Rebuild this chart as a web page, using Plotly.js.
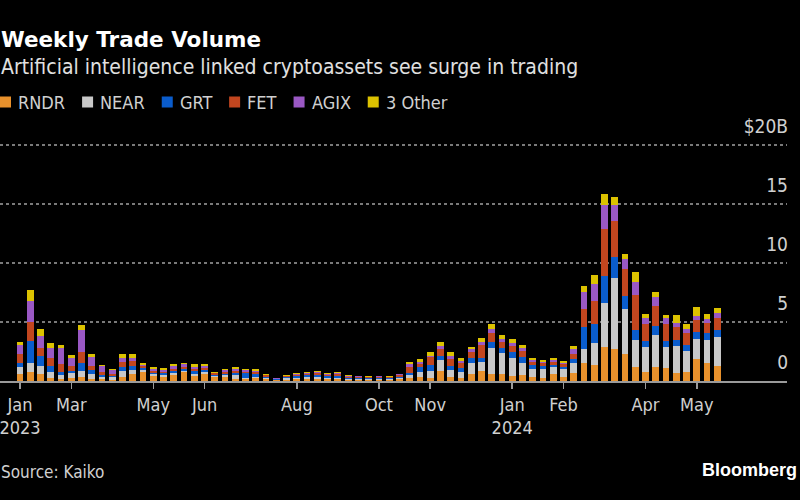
<!DOCTYPE html>
<html>
<head>
<meta charset="utf-8">
<script src="https://cdn.plot.ly/plotly-3.0.1.min.js"></script>
<style>
  html, body { margin: 0; padding: 0; background: #000; }
  #chart { width: 800px; height: 500px; }
</style>
</head>
<body>
<div id="chart"></div>
<script>
// Weekly buckets (69 weeks), tick labels placed at selected weeks
const weeks = Array.from({length: 69}, (_, i) => 'W' + (i + 1));
const tickWeekIdx = [0, 5, 13, 18, 27, 35, 40, 48, 53, 61, 66];
const tickLabels = ['Jan<br>2023', 'Mar', 'May', 'Jun', 'Aug', 'Oct', 'Nov', 'Jan<br>2024', 'Feb', 'Apr', 'May'];

const seriesNames = ['RNDR', 'NEAR', 'GRT', 'FET', 'AGIX', '3 Other'];
const seriesColors = ['#e8912c', '#c8c8c8', '#0a5ccc', '#c2461f', '#9a58c4', '#dcc200'];

// $ billions
const rndr = [0.59,0.76,0.59,0.25,0.20,0.25,0.34,0.20,0.17,0.11,0.37,0.59,0.76,0.42,0.37,0.51,0.73,0.45,0.56,0.31,
  0.34,0.14,0.14,0.23,0.20,0.05,0.12,0.20,0.17,0.17,0.14,0.14,0.10,0.09,0.08,0.09,0.08,0.14,0.28,0.31,
  0.25,0.85,0.37,0.28,0.56,0.85,0.56,0.56,0.42,0.51,0.37,0.28,0.59,0.31,0.71,1.55,1.36,2.85,2.71,2.29,
  1.21,0.79,1.16,1.07,0.65,0.73,1.86,1.50,1.27];
const near = [0.59,0.76,0.71,0.48,0.34,0.40,0.54,0.40,0.20,0.23,0.51,0.37,0.20,0.14,0.14,0.20,0.14,0.14,0.17,0.11,
  0.17,0.34,0.14,0.08,0.08,0.05,0.10,0.08,0.17,0.17,0.14,0.11,0.10,0.09,0.08,0.09,0.08,0.10,0.23,0.42,
  0.62,0.93,0.56,0.45,0.93,0.79,2.26,1.78,1.50,1.05,0.62,0.76,0.56,0.68,0.79,1.13,1.89,3.73,6.05,3.79,
  2.26,2.06,2.74,1.78,2.34,1.81,1.69,1.98,2.43];
const grt = [0.34,1.84,0.85,0.51,0.23,0.23,0.65,0.37,0.17,0.11,0.28,0.28,0.14,0.14,0.14,0.14,0.11,0.28,0.20,0.11,
  0.11,0.23,0.37,0.25,0.08,0.05,0.10,0.14,0.14,0.14,0.11,0.14,0.08,0.07,0.06,0.07,0.07,0.10,0.20,0.48,
  0.48,0.37,0.37,0.34,0.42,0.34,0.45,0.48,0.56,0.51,0.37,0.23,0.17,0.23,0.34,1.92,1.55,2.34,1.78,1.16,
  0.85,0.54,0.79,0.54,0.48,0.51,0.62,0.56,0.62];
const fet = [0.76,1.61,0.65,0.71,0.71,0.37,0.90,0.28,0.23,0.14,0.42,0.42,0.20,0.17,0.14,0.20,0.17,0.14,0.17,0.11,
  0.14,0.14,0.14,0.17,0.11,0.04,0.08,0.11,0.11,0.17,0.14,0.17,0.10,0.09,0.08,0.09,0.08,0.14,0.45,0.20,
  0.65,0.56,0.56,0.42,0.56,1.07,0.82,0.51,0.48,0.51,0.28,0.23,0.25,0.20,0.45,1.50,1.98,3.93,3.05,2.26,
  2.97,1.41,1.67,1.44,1.07,0.99,0.99,0.85,1.05];
const agix = [0.73,1.84,0.99,0.85,1.33,0.71,1.89,0.82,0.48,0.31,0.40,0.28,0.08,0.17,0.14,0.25,0.25,0.20,0.17,0.08,
  0.14,0.14,0.11,0.11,0.08,0.03,0.05,0.08,0.08,0.14,0.08,0.11,0.07,0.06,0.05,0.06,0.06,0.08,0.25,0.23,
  0.15,0.28,0.28,0.23,0.20,0.28,0.28,0.20,0.23,0.20,0.14,0.14,0.17,0.14,0.40,1.41,1.44,2.06,1.33,0.82,
  1.07,0.56,0.73,0.51,0.40,0.37,0.34,0.34,0.37];
const other = [0.28,0.88,0.62,0.40,0.25,0.25,0.40,0.23,0.14,0.14,0.28,0.31,0.17,0.11,0.14,0.14,0.14,0.23,0.14,0.08,
  0.14,0.17,0.14,0.17,0.08,0.03,0.05,0.06,0.08,0.08,0.06,0.08,0.06,0.05,0.05,0.05,0.05,0.06,0.17,0.20,
  0.30,0.28,0.28,0.20,0.23,0.28,0.45,0.40,0.34,0.28,0.20,0.14,0.17,0.17,0.28,0.54,0.76,0.93,0.71,0.45,
  0.90,0.34,0.48,0.28,0.68,0.42,0.79,0.45,0.42];

const yTickVals = [0, 5, 10, 15, 20];
const yTickText = ['0', '5', '10', '15', '$20B'];

const allSeries = [rndr, near, grt, fet, agix, other];
const COND = '"DejaVu Sans Condensed", "DejaVu Sans", sans-serif';

// plot geometry (pixels) used to convert the legend layout to paper units
const W = 800, H = 500;
const M = { l: 0, r: 13, t: 102, b: 119 };
const plotW = W - M.l - M.r, plotH = H - M.t - M.b;
const pxX = px => (px - M.l) / plotW;
const pxY = py => (H - M.b - py) / plotH;

const traces = allSeries.map((vals, k) => ({
  type: 'bar',
  name: seriesNames[k],
  x: weeks,
  y: vals,
  marker: { color: seriesColors[k], line: { width: 0 } },
  hoverinfo: 'skip',
  showlegend: false
}));

// compact legend (swatch + label), widths measured from the font
const legendFontSize = 18;
const cv = document.createElement('canvas').getContext('2d');
cv.font = legendFontSize + 'px "DejaVu Sans Condensed", "DejaVu Sans", sans-serif';
const legendShapes = [];
const legendAnns = [];
let lx = 0;
const legendMidY = 102, sw = 11, textGap = 6, itemGap = 18;
seriesNames.forEach((name, k) => {
  legendShapes.push({
    type: 'rect', xref: 'paper', yref: 'paper', layer: 'above',
    x0: pxX(lx), x1: pxX(lx + sw), y0: pxY(legendMidY + sw / 2), y1: pxY(legendMidY - sw / 2),
    fillcolor: seriesColors[k], line: { width: 0 }
  });
  const tx = lx + sw + textGap;
  legendAnns.push({
    text: name, xref: 'paper', yref: 'paper', x: pxX(tx), y: pxY(legendMidY),
    xanchor: 'left', yanchor: 'middle', showarrow: false, borderpad: 0,
    font: { family: COND, size: legendFontSize, color: '#d0d0d0' }
  });
  lx = tx + cv.measureText(name).width + itemGap;
});

const layout = {
  width: W, height: H,
  margin: M,
  paper_bgcolor: '#000', plot_bgcolor: '#000',
  barmode: 'stack', bargap: 0.34,
  showlegend: false,
  xaxis: {
    type: 'category',
    range: [-1.95, 74.8],
    tickmode: 'array',
    tickvals: tickWeekIdx.map(i => weeks[i]),
    ticktext: tickLabels,
    ticks: 'outside', ticklen: 6, tickwidth: 1.5, tickcolor: '#9a9a9a',
    showline: true, linecolor: '#9a9a9a', linewidth: 2,
    showgrid: false, zeroline: false,
    tickfont: { family: COND, size: 18, color: '#d0d0d0' },
    fixedrange: true
  },
  yaxis: {
    side: 'right',
    range: [0, 23.64],
    tickmode: 'array',
    tickvals: yTickVals,
    ticktext: yTickText,
    ticklabelposition: 'inside top',
    ticklabelstandoff: -4,
    ticklabelshift: -5,
    ticks: '',
    showgrid: true, gridcolor: '#7a7a7a', griddash: 'dot', gridwidth: 1.5,
    zeroline: false, showline: false,
    tickfont: { family: COND, size: 19, color: '#d0d0d0' },
    fixedrange: true
  },
  shapes: legendShapes,
  annotations: [
    { text: '<b>Weekly Trade Volume</b>', xref: 'paper', yref: 'paper', x: 0, y: pxY(40),
      xanchor: 'left', yanchor: 'middle', showarrow: false, borderpad: 0,
      font: { family: '"DejaVu Sans", sans-serif', size: 21.5, color: '#ffffff' } },
    { text: 'Artificial intelligence linked cryptoassets see surge in trading', xref: 'paper', yref: 'paper',
      x: 0, y: pxY(67), xanchor: 'left', yanchor: 'middle', showarrow: false, borderpad: 0,
      font: { family: COND, size: 21, color: '#e0e0e0' } },
    { text: 'Source: Kaiko', xref: 'paper', yref: 'paper', x: 0, y: pxY(472),
      xanchor: 'left', yanchor: 'middle', showarrow: false, borderpad: 0,
      font: { family: COND, size: 17, color: '#d0d0d0' } },
    { text: '<b>Bloomberg</b>', xref: 'paper', yref: 'paper', x: pxX(798), y: pxY(470),
      xanchor: 'right', yanchor: 'middle', showarrow: false, borderpad: 0,
      font: { family: '"Liberation Sans", sans-serif', size: 18, color: '#ffffff' } }
  ].concat(legendAnns)
};

Plotly.newPlot('chart', traces, layout, { displayModeBar: false, staticPlot: true });
</script>
</body>
</html>
